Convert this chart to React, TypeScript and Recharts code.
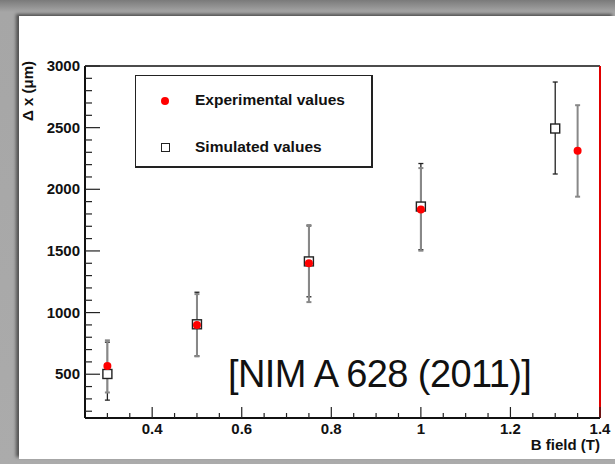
import React from 'react'
import {
  ScatterChart, Scatter, XAxis, YAxis, ErrorBar, ReferenceLine,
} from 'recharts'

// B field (T) and Δx (µm)
const simB = [0.3, 0.5, 0.75, 1.0, 1.3]
const simDx = [502, 905, 1415, 1860, 2493]
const simLow = [290, 648, 1128, 1510, 2124]
const simHigh = [760, 1165, 1703, 2209, 2870]

const expB = [0.3, 0.5, 0.75, 1.0, 1.35]
const expDx = [567, 899, 1400, 1837, 2312]
const expLow = [352, 645, 1085, 1502, 1940]
const expHigh = [775, 1150, 1710, 2172, 2682]

const xTicks = [0.3, 0.35, 0.4, 0.45, 0.5, 0.55, 0.6, 0.65, 0.7, 0.75, 0.8, 0.85, 0.9, 0.95, 1.0, 1.05, 1.1, 1.15, 1.2, 1.25, 1.3, 1.35, 1.4]
const yTicks = [200, 300, 400, 500, 600, 700, 800, 900, 1000, 1100, 1200, 1300, 1400, 1500, 1600, 1700, 1800, 1900, 2000, 2100, 2200, 2300, 2400, 2500, 2600, 2700, 2800, 2900, 3000]

const FONT = '"Liberation Sans", Arial, sans-serif'

const simData = simB.map((b, i) => ({ b, dx: simDx[i], err: [simDx[i] - simLow[i], simHigh[i] - simDx[i]] }))
const expData = expB.map((b, i) => ({ b, dx: expDx[i], err: [expDx[i] - expLow[i], expHigh[i] - expDx[i]] }))

const isMajorX = (v: number) => Math.abs(v * 5 - Math.round(v * 5)) < 1e-6

const XTick = (props: any) => {
  const { x, y, payload } = props
  const v = payload.value as number
  const major = isMajorX(v)
  return (
    <g>
      <line x1={x} x2={x} y1={y} y2={y - (major ? 11 : 5)} stroke="#222" strokeWidth={1.2} />
      {major && (
        <text x={x} y={y + 16} textAnchor="middle" fontFamily={FONT} fontWeight="bold" fontSize={15} fill="#111">
          {String(Number(v.toFixed(2)))}
        </text>
      )}
    </g>
  )
}

const YTick = (props: any) => {
  const { x, y, payload } = props
  const v = payload.value as number
  const major = v % 500 === 0
  return (
    <g>
      <line x1={x} x2={x + (major ? 15 : 7)} y1={y} y2={y} stroke="#222" strokeWidth={1.2} />
      {major && (
        <text x={x - 5} y={y + 5} textAnchor="end" fontFamily={FONT} fontWeight="bold" fontSize={15} fill="#111">
          {v}
        </text>
      )}
    </g>
  )
}

const Square = (props: any) => (
  <rect x={props.cx - 4.5} y={props.cy - 4.5} width={9} height={9} fill="#fff" stroke="#222" strokeWidth={1.4} />
)
const Dot = (props: any) => <circle cx={props.cx} cy={props.cy} r={4} fill="#ff0000" />

const LegendBox = () => (
  <div style={{
    position: 'absolute', left: 135, top: 75,
    width: 238, height: 93, boxSizing: 'border-box', border: '1px solid #222',
    borderRightWidth: 2, borderBottomWidth: 2, background: '#fff', fontFamily: FONT,
    fontWeight: 'bold', fontSize: 15.5, color: '#111',
  }}>
    <div style={{ position: 'absolute', left: 25, top: 21, width: 8, height: 8, borderRadius: 4, background: '#ff0000' }} />
    <div style={{ position: 'absolute', left: 59, top: 15 }}>Experimental values</div>
    <div style={{ position: 'absolute', left: 25, top: 67, width: 7, height: 7, border: '1px solid #222', background: '#fff' }} />
    <div style={{ position: 'absolute', left: 59, top: 62 }}>Simulated values</div>
  </div>
)

export default function App() {
  return (
    <div style={{
      position: 'absolute', left: 0, top: 0, width: 615, height: 464, overflow: 'hidden',
      background: 'linear-gradient(to bottom, #7a7a7a 0px, #a6a6a6 12px, #ababab 100%)',
    }}>
      <div style={{
        position: 'absolute', left: 19, top: 16, width: 596, height: 443, background: '#fff',
        boxShadow: '-3px -2px 3px rgba(0,0,0,0.5)',
      }} />
      <div style={{ position: 'absolute', left: 0, top: 0 }}>
        <ScatterChart width={615} height={464} margin={{ top: 66, right: 15, bottom: 0, left: 0 }}>
          <XAxis
            type="number" dataKey="b" domain={[0.25, 1.4]} ticks={xTicks} allowDataOverflow
            height={46} tickSize={0} tickMargin={0} tick={<XTick />} interval={0}
            axisLine={{ stroke: '#111', strokeWidth: 2 }}
          />
          <YAxis
            type="number" dataKey="dx" domain={[145, 3000]} ticks={yTicks} allowDataOverflow
            width={85} tickSize={0} tickMargin={0} tick={<YTick />} interval={0}
            axisLine={{ stroke: '#111', strokeWidth: 2 }}
          />
          <ReferenceLine y={3000} stroke="#111" strokeWidth={1.5} />
          <ReferenceLine x={1.4} stroke="#e00000" strokeWidth={2} />
          <Scatter name="Simulated values" data={simData} shape={<Square />} isAnimationActive={false}>
            <ErrorBar dataKey="err" direction="y" width={2.5} stroke="#222" strokeWidth={1.3} />
          </Scatter>
          <Scatter name="Experimental values" data={expData} shape={<Dot />} isAnimationActive={false}>
            <ErrorBar dataKey="err" direction="y" width={2.5} stroke="#888" strokeWidth={2} />
          </Scatter>
        </ScatterChart>
      </div>
      <LegendBox />
      <div style={{
        position: 'absolute', left: 35, top: 61, transformOrigin: '0 0', transform: 'rotate(-90deg) translateX(-100%) translateY(-100%)',
        fontFamily: FONT, fontWeight: 'bold', fontSize: 15, color: '#111', whiteSpace: 'nowrap', lineHeight: '15px',
      }}>
        Δ x (μm)
      </div>
      <div style={{
        position: 'absolute', right: 15, top: 437, fontFamily: FONT, fontWeight: 'bold',
        fontSize: 15, color: '#111', whiteSpace: 'nowrap', lineHeight: '15px',
      }}>
        B field (T)
      </div>
      <div style={{
        position: 'absolute', left: 228, top: 353, fontFamily: FONT, fontSize: 38,
        color: '#111', whiteSpace: 'nowrap', letterSpacing: -0.6,
      }}>
        [NIM A 628 (2011)]
      </div>
    </div>
  )
}
